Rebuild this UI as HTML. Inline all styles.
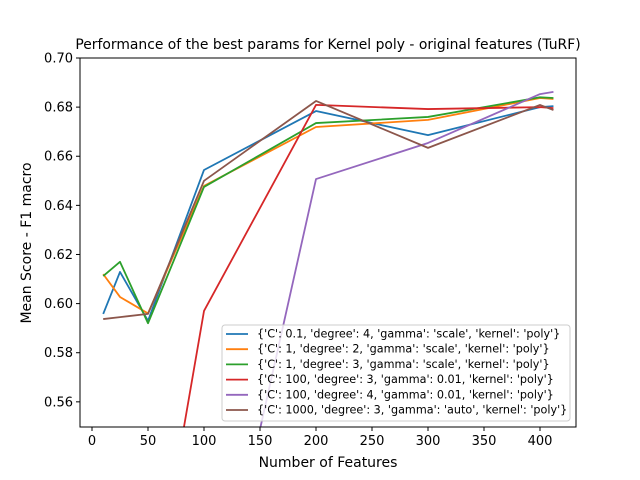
<!DOCTYPE html>
<html><head><meta charset="utf-8"><style>html,body{margin:0;padding:0;background:#fff;overflow:hidden;width:640px;height:480px}svg{display:block;font-family:"DejaVu Sans","Liberation Sans",sans-serif}</style></head>
<body>
<svg id="chart" width="640" height="480" viewBox="0 0 640 480">
<rect width="640" height="480" fill="#fff"/>
<text x="328" y="49" text-anchor="middle" font-size="13.9">Performance of the best params for Kernel poly -  original features (TuRF)</text>
<g id="series"></g>
<rect x="80" y="58" width="496" height="369" fill="none" stroke="#000" stroke-width="1"/>
<g id="axes"></g>
<text x="328" y="467" text-anchor="middle" font-size="14">Number of Features</text>
<text transform="translate(31,243) rotate(-90)" text-anchor="middle" font-size="14">Mean Score - F1 macro</text>
<g id="legend"></g>
</svg>
<script>
const xs = [10, 25, 50, 100, 200, 300, 400, 412];
const blue = [0.5958, 0.6129, 0.593, 0.6544, 0.6784, 0.6686, 0.680, 0.6804];
const orange = [0.612, 0.6027, 0.596, 0.6479, 0.6719, 0.6748, 0.6837, 0.6833];
const green = [0.6112, 0.617, 0.592, 0.6475, 0.6735, 0.676, 0.684, 0.6837];
const red = [0.44, 0.45, 0.465, 0.597, 0.6809, 0.6792, 0.680, 0.6796];
const purple = [0.43, 0.43, 0.44, 0.447, 0.6507, 0.6654, 0.6853, 0.6862];
const brown = [0.5937, 0.5945, 0.5958, 0.650, 0.6825, 0.6634, 0.6809, 0.6788];
const xTicks = [0, 50, 100, 150, 200, 250, 300, 350, 400];
const yTicks = [0.56, 0.58, 0.60, 0.62, 0.64, 0.66, 0.68, 0.70];
const labels = ["{'C': 0.1, 'degree': 4, 'gamma': 'scale', 'kernel': 'poly'}","{'C': 1, 'degree': 2, 'gamma': 'scale', 'kernel': 'poly'}","{'C': 1, 'degree': 3, 'gamma': 'scale', 'kernel': 'poly'}","{'C': 100, 'degree': 3, 'gamma': 0.01, 'kernel': 'poly'}","{'C': 100, 'degree': 4, 'gamma': 0.01, 'kernel': 'poly'}","{'C': 1000, 'degree': 3, 'gamma': 'auto', 'kernel': 'poly'}"];
const colors = ['#1f77b4','#ff7f0e','#2ca02c','#d62728','#9467bd','#8c564b'];
const NS='http://www.w3.org/2000/svg';
const xS = v => 92 + v*1.12;
const yS = v => 58 + (0.70 - v)*2456;
const YMIN=58, YMAX=427;
function mk(t,a,p){const e=document.createElementNS(NS,t);for(const k in a)e.setAttribute(k,a[k]);p.appendChild(e);return e;}
const axes=document.getElementById('axes');
xTicks.forEach(t=>{const x=xS(t);
 const l=mk('line',{x1:x,x2:x,y1:427,y2:431,stroke:'#000'},axes);
 
 
 const tx=mk('text',{x:x,y:445,'text-anchor':'middle','font-size':'13'},axes);tx.textContent=t;
 
 });
yTicks.forEach(t=>{const y=yS(t);
 const l=mk('line',{x1:76,x2:80,y1:y,y2:y,stroke:'#000'},axes);
 
 
 const tx=mk('text',{x:73,y:y+4.5,'text-anchor':'end','font-size':'13'},axes);tx.textContent=t.toFixed(2);
 
 });
function clipSeg(x1,y1,x2,y2){
 let t0=0,t1=1;const dy=y2-y1;
 if(dy===0){return (y1<YMIN||y1>YMAX)?null:[x1,y1,x2,y2];}
 let ta=(YMIN-y1)/dy, tb=(YMAX-y1)/dy; if(ta>tb){const q=ta;ta=tb;tb=q;}
 t0=Math.max(t0,ta);t1=Math.min(t1,tb); if(t0>=t1)return null;
 return [x1+(x2-x1)*t0,y1+dy*t0,x1+(x2-x1)*t1,y1+dy*t1];}
const sg=document.getElementById('series');
[blue,orange,green,red,purple,brown].forEach((s,i)=>{
 let d='';let last=null;
 for(let j=0;j<s.length-1;j++){
  const c=clipSeg(xS(xs[j]),yS(s[j]),xS(xs[j+1]),yS(s[j+1]));
  if(!c)continue;
  if(!last||Math.abs(last[0]-c[0])>0.01||Math.abs(last[1]-c[1])>0.01)d+='M'+c[0]+','+c[1];
  d+='L'+c[2]+','+c[3];last=[c[2],c[3]];}
 const p=mk('path',{d:d,fill:'none',stroke:colors[i],'stroke-width':'1.8','stroke-linejoin':'round'},sg);
 
 });
const lg=document.getElementById('legend');
const box=mk('rect',{x:222,y:325,width:348,height:96,rx:3,fill:'#fff','fill-opacity':'0.8',stroke:'#ccc'},lg);


labels.forEach((t,i)=>{const y=334+i*15.2;
 const l=mk('line',{x1:226,x2:248,y1:y,y2:y,stroke:colors[i],'stroke-width':'1.8'},lg);
 
 
 const tx=mk('text',{x:257,y:y+3.5,'font-size':'11.2'},lg);tx.textContent=t;
 
 });
</script>
</body></html>
